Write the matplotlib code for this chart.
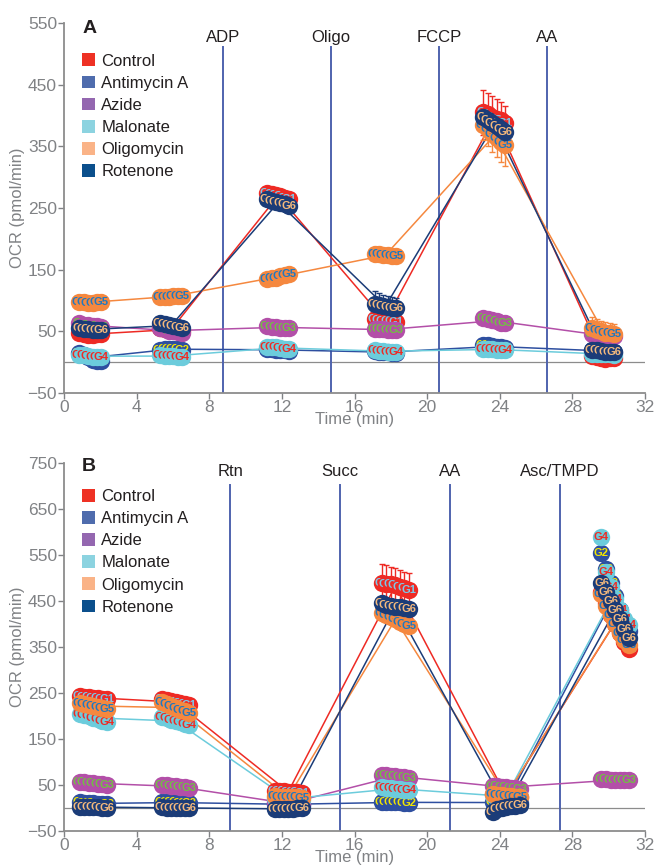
import numpy as np
import matplotlib.pyplot as plt
from matplotlib.patches import Patch

plt.rcParams['font.family'] = ['Liberation Sans', 'DejaVu Sans']

groups = ["Control", "Antimycin A", "Azide", "Malonate", "Oligomycin", "Rotenone"]
wells = ["G1", "G2", "G3", "G4", "G5", "G6"]

legend_colors = ["#EE3124", "#4F6CAD", "#9467B0", "#8CD3E0", "#FAB387", "#0B4F8C"]
marker_colors = ["#EE2A24", "#2E4FA0", "#B34FA8", "#6CCCDC", "#F5883F", "#1B3C78"]
text_colors = ["#7CC8EA", "#F2E600", "#72BF44", "#EE2A24", "#1F78C1", "#F6BA7C"]

# panel A: coupled state, 6 wells per group
a_times = [0.85, 5.3, 11.2, 17.1, 23.1, 29.1]
a_events = ["ADP", "Oligo", "FCCP", "AA"]
a_event_t = [8.75, 14.7, 20.65, 26.6]

a_control = [[47, 45, 44, 44, 45, 46], [55, 54, 53, 52, 52, 51], [275, 273, 271, 269, 267, 265],
             [70, 68, 67, 66, 66, 65], [405, 402, 398, 395, 392, 388], [10, 8, 6, 5, 6, 7]]
a_antimycin = [[15, 12, 8, 4, 2, 2], [20, 21, 22, 22, 21, 20], [22, 21, 20, 20, 19, 18],
               [18, 17, 16, 16, 15, 15], [28, 27, 26, 25, 24, 23], [20, 19, 18, 18, 17, 17]]
a_azide = [[63, 61, 60, 59, 58, 57], [55, 53, 51, 50, 49, 48], [58, 57, 57, 56, 56, 55],
           [54, 53, 53, 52, 52, 52], [72, 70, 68, 66, 64, 63], [45, 44, 43, 43, 42, 42]]
a_malonate = [[12, 11, 10, 9, 8, 8], [11, 10, 10, 10, 9, 9], [25, 24, 24, 23, 22, 22],
              [19, 18, 18, 17, 17, 17], [22, 21, 21, 20, 20, 20], [14, 14, 13, 13, 13, 12]]
a_oligomycin = [[98, 97, 96, 96, 97, 98], [105, 105, 106, 107, 108, 108], [135, 136, 137, 139, 141, 143],
                [175, 175, 174, 173, 172, 172], [385, 378, 370, 363, 357, 352], [55, 52, 50, 48, 47, 46]]
a_rotenone = [[55, 54, 53, 52, 52, 52], [63, 62, 60, 58, 57, 56], [264, 262, 260, 258, 256, 254],
              [95, 93, 91, 89, 88, 87], [398, 393, 388, 383, 378, 373], [20, 19, 18, 17, 17, 16]]

# error bars: (group index, measurement index, sd per well)
a_errors = [(0, 4, [37, 35, 33, 32, 30, 28]),
            (4, 4, [25, 27, 29, 30, 32, 34]),
            (4, 5, [18, 18, 17, 17, 16, 16]),
            (5, 3, [20, 19, 18, 18, 17, 17])]

# panel B: uncoupled state, 7 wells per group
b_times = [0.86, 5.4, 11.6, 17.5, 23.6, 29.6]
b_events = ["Rtn", "Succ", "AA", "Asc/TMPD"]
b_event_t = [9.15, 15.2, 21.25, 27.3]

b_control = [[243, 242, 241, 240, 239, 238, 237], [237, 235, 232, 230, 228, 226, 224],
             [38, 37, 36, 35, 34, 34, 33], [490, 488, 486, 484, 481, 478, 475],
             [30, 28, 27, 26, 25, 25, 24], [470, 445, 420, 400, 380, 360, 345]]
b_antimycin = [[12, 11, 10, 10, 9, 9, 8], [14, 13, 12, 12, 11, 11, 10],
               [9, 9, 8, 8, 8, 7, 7], [14, 13, 13, 12, 12, 11, 11],
               [14, 13, 12, 12, 11, 11, 10], [554, 520, 490, 460, 430, 405, 385]]
b_azide = [[57, 56, 55, 54, 53, 52, 51], [50, 49, 48, 47, 46, 45, 44],
           [12, 11, 10, 10, 9, 9, 8], [72, 71, 70, 69, 68, 67, 66],
           [48, 47, 46, 45, 44, 43, 42], [62, 62, 61, 61, 60, 60, 60]]
b_malonate = [[205, 202, 199, 196, 193, 190, 188], [198, 195, 192, 189, 186, 183, 180],
              [22, 21, 20, 20, 19, 19, 18], [45, 44, 43, 42, 41, 40, 40],
              [28, 27, 26, 25, 24, 24, 23], [590, 513, 480, 455, 430, 410, 398]]
b_oligomycin = [[228, 226, 224, 222, 220, 218, 216], [230, 226, 222, 218, 214, 210, 207],
                [26, 25, 24, 24, 23, 23, 22], [425, 420, 415, 410, 405, 400, 395],
                [30, 29, 28, 27, 26, 25, 25], [465, 440, 420, 400, 380, 365, 355]]
b_rotenone = [[3, 3, 2, 2, 2, 1, 1], [2, 1, 1, 0, 0, -1, -1],
              [-3, -3, -2, -2, -2, -1, -1], [445, 442, 440, 438, 436, 434, 432],
              [-8, -3, 0, 2, 4, 5, 6], [490, 470, 450, 430, 410, 390, 370]]

b_errors = [(0, 3, [40, 40, 38, 38, 36, 36, 35])]

GRAY = "#808285"


def draw_panel(ax, times, step, series, errors, events, event_t, ylim, letter, ev_top, ev_text, leg_y):
    # lines between measurement means
    for k, vals in enumerate(series):
        mx, my = [], []
        for c, cl in enumerate(vals):
            xs = times[c] + step * np.arange(len(cl))
            mx.append(xs.mean())
            my.append(np.mean(cl))
        ax.plot(mx, my, color=marker_colors[k], lw=1.1, zorder=3)

    for k, c, sd in errors:
        cl = series[k][c]
        xs = times[c] + step * np.arange(len(cl))
        ax.errorbar(xs, cl, yerr=sd, fmt='none', ecolor=marker_colors[k],
                    elinewidth=1, capsize=2, capthick=1, zorder=5)

    # one marker + well label per well, each covering the previous label
    for k, vals in enumerate(series):
        for c, cl in enumerate(vals):
            xs = times[c] + step * np.arange(len(cl))
            for j, (x, y) in enumerate(zip(xs, cl)):
                z = 10 + k * 20 + 2 * j
                ax.plot([x], [y], 'o', ms=12.5, color=marker_colors[k], mec='none', zorder=z)
                ax.text(x, y, wells[k], color=text_colors[k], fontsize=8, fontweight='bold',
                        ha='center', va='center', zorder=z + 1)

    ax.axhline(0, color="#8c8c8c", lw=0.9, zorder=1)
    for lab, t in zip(events, event_t):
        ax.axvline(t, ymin=0, ymax=ev_top, color="#4F63AE", lw=1.4, zorder=2)
        ax.text(t, ev_text, lab, transform=ax.get_xaxis_transform(), ha='center', va='center',
                fontsize=12, color="#231F20")

    ax.set_xlim(0, 32)
    ax.set_ylim(*ylim)
    ax.set_xticks(range(0, 33, 4))
    ax.set_yticks(range(ylim[0], ylim[1] + 1, 100))
    for s in ["top", "right"]:
        ax.spines[s].set_visible(False)
    for s in ["left", "bottom"]:
        ax.spines[s].set_color("#8c8c8c")
        ax.spines[s].set_linewidth(1.3)
    ax.tick_params(colors=GRAY, labelsize=12.5, length=4, width=1, pad=1)
    ax.set_xlabel("Time (min)", color=GRAY, fontsize=12, labelpad=-2)
    ax.set_ylabel("OCR (pmol/min)", color=GRAY, fontsize=12, labelpad=2)

    ax.text(0.031, 0.986 if letter == "A" else 0.99, letter, transform=ax.transAxes,
            fontsize=14, fontweight='bold', color="#231F20", ha='left', va='center')
    handles = [Patch(facecolor=c, edgecolor='none') for c in legend_colors]
    ax.legend(handles, groups, loc='upper left', bbox_to_anchor=(0.031, leg_y), frameon=False,
              fontsize=12, handlelength=0.8, handleheight=0.8, handletextpad=0.35,
              labelspacing=0.42, borderpad=0, borderaxespad=0, labelcolor="#231F20")


fig = plt.figure(figsize=(6.56, 8.65), dpi=100)
ax_a = fig.add_axes([0.0976, 0.5457, 0.8857, 0.4277])
ax_b = fig.add_axes([0.0976, 0.0393, 0.8857, 0.4254])

draw_panel(ax_a, a_times, 0.24,
           [a_control, a_antimycin, a_azide, a_malonate, a_oligomycin, a_rotenone],
           a_errors, a_events, a_event_t, (-50, 550), "A", 0.935, 0.962, 0.918)
draw_panel(ax_b, b_times, 0.25,
           [b_control, b_antimycin, b_azide, b_malonate, b_oligomycin, b_rotenone],
           b_errors, b_events, b_event_t, (-50, 750), "B", 0.94, 0.978, 0.93)

fig.savefig("out.png", dpi=100)
